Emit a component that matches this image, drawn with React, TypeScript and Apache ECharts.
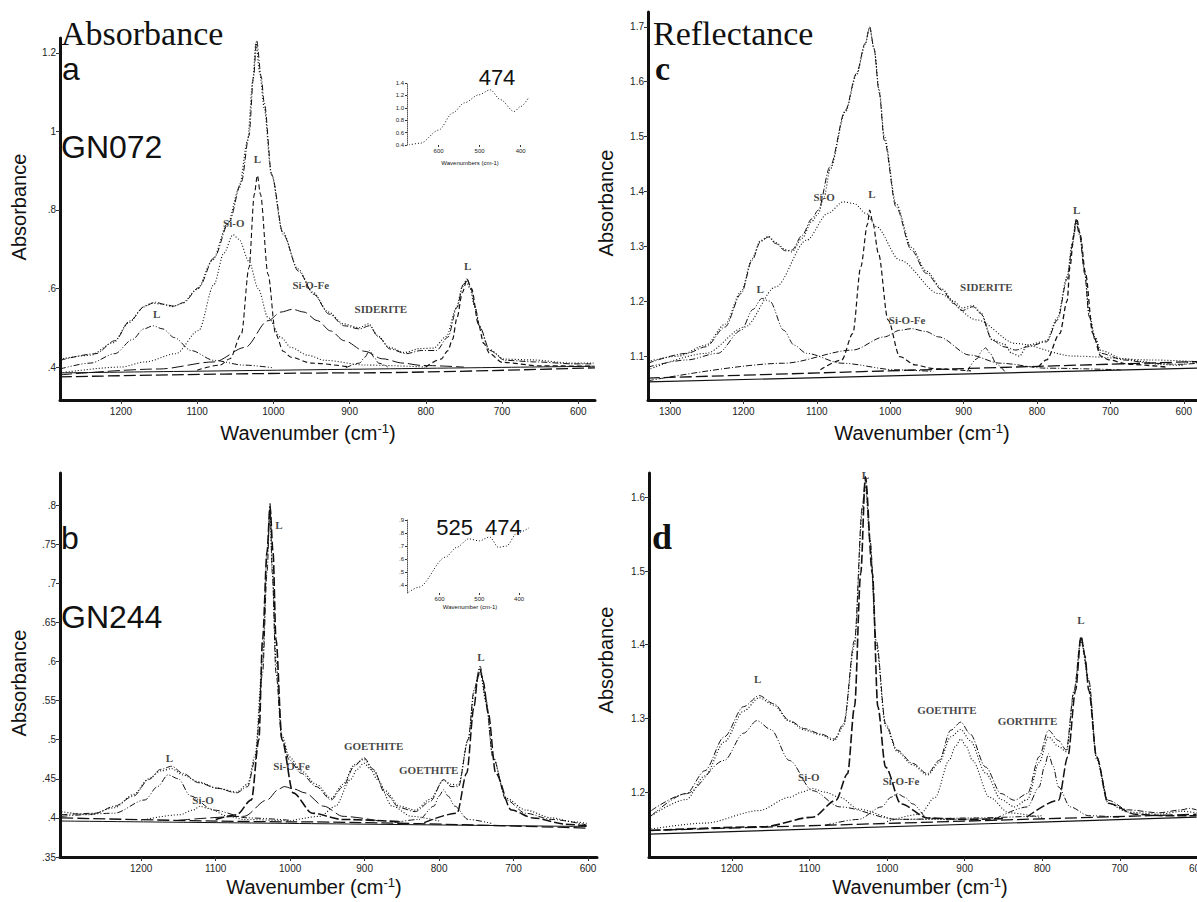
import React, { useEffect, useRef } from "react";
import * as echarts from "echarts";

// ---------- Panel a : GN072 absorbance ----------
const aTotal = [[1280,0.417],[1233,0.434],[1208,0.467],[1188,0.518],[1168,0.556],[1155,0.565],[1140,0.558],[1130,0.555],[1118,0.564],[1098,0.602],[1078,0.678],[1058,0.77],[1042,0.871],[1032,0.989],[1026,1.14],[1022,1.232],[1016,1.14],[1012,1.073],[1002,0.888],[987,0.737],[967,0.644],[947,0.585],[927,0.535],[907,0.505],[887,0.497],[874,0.505],[862,0.476],[847,0.446],[826,0.434],[806,0.442],[786,0.442],[771,0.476],[759,0.552],[751,0.61],[746,0.625],[741,0.6],[735,0.55],[729,0.501],[716,0.442],[696,0.417],[656,0.413],[606,0.408],[580,0.408]];
const aMeas = [[1280,0.42],[1240,0.43],[1210,0.462],[1190,0.513],[1170,0.553],[1160,0.563],[1145,0.56],[1133,0.554],[1120,0.562],[1100,0.598],[1080,0.672],[1060,0.765],[1045,0.855],[1034,0.975],[1027,1.13],[1023,1.225],[1018,1.15],[1012,1.06],[1003,0.895],[988,0.745],[968,0.65],[948,0.59],[928,0.54],[908,0.51],[888,0.5],[875,0.51],[863,0.48],[848,0.45],[828,0.437],[808,0.447],[790,0.448],[773,0.478],[760,0.55],[752,0.605],[747,0.618],[742,0.6],[736,0.555],[730,0.505],[717,0.445],[697,0.42],[660,0.418],[610,0.41],[580,0.41]];
const aL1160 = [[1280,0.395],[1240,0.41],[1208,0.434],[1185,0.47],[1170,0.497],[1158,0.505],[1145,0.497],[1130,0.475],[1108,0.442],[1078,0.417],[1040,0.405],[1000,0.398]];
const aSiO = [[1280,0.385],[1200,0.4],[1168,0.413],[1128,0.434],[1098,0.493],[1078,0.61],[1065,0.69],[1053,0.737],[1045,0.725],[1032,0.669],[1020,0.6],[1007,0.526],[990,0.475],[977,0.45],[955,0.43],[932,0.417],[880,0.405],[800,0.4]];
const aL1020 = [[1100,0.392],[1070,0.405],[1057,0.421],[1042,0.484],[1032,0.653],[1025,0.84],[1021,0.888],[1017,0.84],[1007,0.636],[997,0.484],[987,0.44],[977,0.425],[950,0.41],[900,0.4]];
const aSiOFe = [[1280,0.38],[1150,0.395],[1078,0.413],[1037,0.45],[1007,0.518],[990,0.54],[975,0.547],[960,0.54],[942,0.518],[925,0.492],[907,0.467],[880,0.44],[857,0.421],[830,0.41],[806,0.404],[750,0.4]];
const aSid = [[905,0.398],[887,0.41],[880,0.425],[874,0.442],[868,0.425],[862,0.41],[850,0.4]];
const aL745 = [[800,0.4],[780,0.42],[771,0.442],[765,0.47],[759,0.526],[752,0.59],[746,0.623],[740,0.6],[731,0.509],[724,0.46],[716,0.434],[700,0.412],[650,0.403],[580,0.402]];
const aBase1 = [[1280,0.385],[578,0.402]];
const aBase2 = [[1280,0.375],[900,0.385],[578,0.398]];
const aNotes = [[1153,0.535,"L"],[1052,0.766,"Si-O"],[1021,0.93,"L"],[951,0.61,"Si-O-Fe"],[859,0.547,"SIDERITE"],[745,0.657,"L"]];
const aInset = [[672,0.4],[644,0.43],[600,0.64],[565,0.92],[537,1.08],[502,1.21],[474,1.29],[449,1.13],[416,0.94],[400,1.02],[381,1.16]];

// ---------- Panel b : GN244 absorbance ----------
const bTotal = [[1307,0.404],[1261,0.406],[1236,0.415],[1210,0.428],[1190,0.449],[1174,0.462],[1159,0.466],[1144,0.457],[1123,0.445],[1098,0.438],[1072,0.432],[1057,0.44],[1047,0.474],[1037,0.585],[1031,0.713],[1027,0.802],[1024,0.713],[1019,0.585],[1011,0.5],[1001,0.474],[985,0.457],[965,0.44],[945,0.423],[929,0.44],[914,0.466],[901,0.477],[888,0.462],[873,0.432],[853,0.413],[832,0.408],[812,0.421],[794,0.449],[784,0.44],[774,0.44],[761,0.5],[753,0.564],[745,0.594],[737,0.551],[728,0.479],[710,0.423],[684,0.406],[649,0.398],[602,0.391]];
const bMeas = [[1307,0.408],[1270,0.404],[1236,0.413],[1210,0.43],[1190,0.45],[1174,0.46],[1159,0.463],[1144,0.455],[1123,0.446],[1098,0.438],[1072,0.433],[1057,0.443],[1047,0.48],[1037,0.6],[1031,0.74],[1027,0.79],[1024,0.72],[1019,0.6],[1011,0.505],[1001,0.478],[985,0.46],[965,0.443],[945,0.425],[929,0.443],[914,0.468],[901,0.475],[888,0.46],[873,0.435],[853,0.415],[832,0.41],[812,0.424],[794,0.448],[784,0.443],[774,0.442],[761,0.5],[753,0.56],[745,0.588],[737,0.548],[728,0.478],[710,0.425],[684,0.41],[649,0.4],[620,0.395],[602,0.393]];
const bL1160 = [[1307,0.402],[1236,0.406],[1195,0.423],[1178,0.44],[1164,0.455],[1150,0.45],[1134,0.428],[1103,0.41],[1057,0.4],[1000,0.397]];
const bSiO = [[1200,0.397],[1149,0.404],[1130,0.41],[1121,0.415],[1110,0.412],[1083,0.402],[1062,0.398],[1000,0.396]];
const bL1025 = [[1100,0.398],[1072,0.404],[1052,0.423],[1042,0.5],[1037,0.628],[1031,0.74],[1027,0.798],[1023,0.74],[1019,0.628],[1011,0.5],[996,0.432],[970,0.406],[930,0.398],[850,0.395]];
const bSiOFe = [[1150,0.397],[1062,0.402],[1031,0.423],[1015,0.437],[1008,0.44],[995,0.437],[980,0.432],[955,0.415],[929,0.402],[880,0.396]];
const bGoe900 = [[1000,0.396],[960,0.402],[939,0.415],[919,0.449],[910,0.462],[901,0.47],[892,0.462],[883,0.449],[863,0.415],[837,0.402],[800,0.396]];
const bGoe795 = [[860,0.394],[827,0.398],[807,0.415],[800,0.428],[794,0.436],[788,0.428],[779,0.415],[761,0.398],[730,0.393]];
const bL745 = [[820,0.394],[776,0.406],[763,0.457],[753,0.543],[748,0.58],[745,0.59],[741,0.575],[734,0.534],[724,0.457],[703,0.41],[674,0.4],[630,0.392],[602,0.39]];
const bBase1 = [[1307,0.396],[602,0.389]];
const bBase2 = [[1307,0.4],[1000,0.395],[602,0.387]];
const bNotes = [[1015,0.775,"L"],[1162,0.477,"L"],[1117,0.423,"Si-O"],[998,0.466,"Si-O-Fe"],[888,0.492,"GOETHITE"],[814,0.461,"GOETHITE"],[744,0.606,"L"]];
const bInset = [[678,0.346],[652,0.385],[585,0.615],[557,0.69],[527,0.755],[500,0.74],[474,0.77],[452,0.69],[432,0.7],[405,0.8],[375,0.84]];

// ---------- Panel c : reflectance ----------
const cTotal = [[1330,1.087],[1277,1.105],[1251,1.117],[1225,1.153],[1203,1.214],[1188,1.275],[1177,1.308],[1166,1.317],[1156,1.305],[1143,1.292],[1134,1.293],[1120,1.32],[1107,1.35],[1098,1.366],[1082,1.445],[1061,1.548],[1046,1.615],[1034,1.67],[1028,1.7],[1022,1.66],[1015,1.58],[1008,1.493],[992,1.372],[971,1.293],[951,1.251],[929,1.22],[914,1.196],[902,1.183],[887,1.19],[877,1.178],[861,1.129],[845,1.117],[829,1.111],[813,1.117],[787,1.126],[772,1.166],[759,1.24],[752,1.3],[747,1.345],[742,1.32],[735,1.25],[729,1.172],[721,1.13],[713,1.105],[682,1.093],[645,1.087],[604,1.085],[582,1.087]];
const cMeas = [[1330,1.09],[1289,1.1],[1251,1.12],[1225,1.158],[1203,1.218],[1188,1.278],[1177,1.31],[1166,1.318],[1156,1.307],[1143,1.294],[1134,1.29],[1120,1.315],[1107,1.345],[1098,1.36],[1090,1.39],[1082,1.44],[1061,1.545],[1046,1.612],[1034,1.668],[1028,1.698],[1022,1.66],[1015,1.585],[1008,1.5],[992,1.378],[971,1.298],[951,1.255],[929,1.222],[914,1.2],[902,1.188],[887,1.192],[877,1.18],[861,1.13],[845,1.122],[834,1.105],[824,1.1],[813,1.12],[787,1.128],[772,1.17],[759,1.245],[752,1.305],[747,1.348],[742,1.325],[735,1.255],[729,1.178],[721,1.135],[713,1.11],[682,1.095],[655,1.09],[635,1.085],[604,1.083],[590,1.09],[582,1.088]];
const cL1165 = [[1330,1.08],[1277,1.093],[1235,1.105],[1203,1.147],[1187,1.185],[1175,1.205],[1164,1.2],[1145,1.147],[1131,1.12],[1114,1.105],[1066,1.087],[992,1.075],[941,1.072]];
const cSiO = [[1330,1.075],[1251,1.105],[1198,1.153],[1156,1.226],[1114,1.311],[1085,1.36],[1064,1.381],[1049,1.378],[1033,1.36],[1019,1.336],[987,1.275],[934,1.214],[882,1.166],[829,1.123],[750,1.1],[645,1.093],[582,1.09]];
const cL1025 = [[1095,1.075],[1066,1.093],[1051,1.141],[1040,1.263],[1031,1.34],[1028,1.366],[1024,1.345],[1016,1.287],[1003,1.166],[987,1.099],[966,1.084],[941,1.077],[890,1.073]];
const cSiOFe = [[1330,1.055],[1145,1.087],[1051,1.111],[1008,1.135],[987,1.147],[971,1.15],[952,1.145],[934,1.135],[892,1.102],[850,1.087],[788,1.078],[686,1.075]];
const cSid = [[895,1.072],[882,1.095],[875,1.11],[870,1.115],[864,1.105],[855,1.085],[844,1.072]];
const cL745 = [[798,1.08],[787,1.093],[769,1.141],[759,1.2],[755,1.263],[750,1.32],[746,1.351],[741,1.32],[734,1.251],[724,1.141],[713,1.1],[702,1.093],[675,1.085],[624,1.08]];
const cBase1 = [[1330,1.053],[582,1.078]];
const cBase2 = [[1330,1.06],[582,1.09]];
const cNotes = [[1090,1.39,"Si-O"],[1025,1.396,"L"],[1177,1.223,"L"],[869,1.225,"SIDERITE"],[977,1.166,"Si-O-Fe"],[746,1.367,"L"]];

// ---------- Panel d : reflectance ----------
const dTotal = [[1304,1.175],[1259,1.198],[1235,1.229],[1210,1.275],[1185,1.316],[1165,1.331],[1146,1.32],[1126,1.297],[1106,1.286],[1086,1.279],[1068,1.272],[1056,1.293],[1042,1.406],[1032,1.587],[1028,1.624],[1022,1.542],[1014,1.406],[1002,1.293],[987,1.257],[967,1.239],[948,1.225],[933,1.243],[918,1.284],[905,1.295],[893,1.279],[873,1.234],[853,1.198],[836,1.189],[819,1.198],[804,1.248],[792,1.284],[779,1.27],[769,1.257],[759,1.338],[750,1.411],[740,1.352],[730,1.248],[715,1.189],[690,1.176],[650,1.172],[620,1.176],[611,1.178],[601,1.176]];
const dMeas = [[1304,1.168],[1259,1.19],[1235,1.222],[1210,1.268],[1185,1.31],[1165,1.328],[1146,1.318],[1126,1.296],[1106,1.284],[1086,1.278],[1068,1.27],[1056,1.29],[1042,1.4],[1032,1.58],[1028,1.615],[1022,1.54],[1014,1.4],[1002,1.29],[987,1.255],[967,1.237],[948,1.223],[933,1.24],[918,1.275],[905,1.285],[893,1.27],[873,1.226],[853,1.19],[836,1.18],[819,1.19],[804,1.24],[792,1.275],[779,1.262],[769,1.255],[759,1.335],[750,1.405],[740,1.35],[730,1.245],[715,1.185],[690,1.173],[650,1.17],[620,1.174],[601,1.172]];
const dL1165 = [[1304,1.168],[1259,1.198],[1210,1.243],[1185,1.28],[1168,1.297],[1150,1.285],[1126,1.243],[1096,1.202],[1061,1.18],[987,1.163],[888,1.165],[800,1.168]];
const dSiO = [[1304,1.15],[1235,1.158],[1165,1.175],[1126,1.193],[1110,1.2],[1096,1.205],[1080,1.2],[1061,1.193],[1037,1.177],[987,1.163],[913,1.163],[850,1.165]];
const dL1025 = [[1304,1.148],[1160,1.153],[1096,1.166],[1066,1.189],[1051,1.225],[1042,1.316],[1034,1.497],[1028,1.628],[1019,1.497],[1012,1.316],[1002,1.234],[982,1.184],[948,1.165],[900,1.163],[850,1.164]];
const dSiOFe = [[1080,1.155],[1037,1.163],[1007,1.18],[995,1.193],[987,1.198],[977,1.193],[967,1.184],[948,1.165],[920,1.162]];
const dGoe900 = [[1000,1.16],[958,1.17],[938,1.193],[920,1.243],[912,1.262],[905,1.272],[898,1.262],[890,1.243],[868,1.193],[843,1.172],[800,1.165]];
const dGoe790 = [[860,1.164],[819,1.18],[804,1.207],[797,1.235],[792,1.252],[786,1.235],[779,1.207],[764,1.18],[740,1.168],[700,1.166]];
const dL745 = [[820,1.166],[779,1.189],[767,1.248],[757,1.338],[750,1.411],[745,1.385],[740,1.338],[730,1.248],[715,1.185],[680,1.17],[640,1.168],[601,1.168]];
const dBase1 = [[1307,1.143],[601,1.166]];
const dBase2 = [[1307,1.148],[601,1.17]];
const dNotes = [[1028,1.63,"L"],[1167,1.354,"L"],[1101,1.22,"Si-O"],[982,1.215,"Si-O-Fe"],[923,1.311,"GOETHITE"],[819,1.297,"GORTHITE"],[750,1.433,"L"]];

// ---------- axes / ticks ----------
const xTicksA = [1200, 1100, 1000, 900, 800, 700, 600];
const xTicksC = [1300, 1200, 1100, 1000, 900, 800, 700, 600];
const yTicksA = [0.4, 0.6, 0.8, 1, 1.2];
const yLabelsA = [".4", ".6", ".8", "1", "1.2"];
const yTicksB = [0.35, 0.4, 0.45, 0.5, 0.55, 0.6, 0.65, 0.7, 0.75, 0.8];
const yLabelsB = [".35", ".4", ".45", ".5", ".55", ".6", ".65", ".7", ".75", ".8"];
const yTicksC = [1.1, 1.2, 1.3, 1.4, 1.5, 1.6, 1.7];
const yLabelsC = ["1.1", "1.2", "1.3", "1.4", "1.5", "1.6", "1.7"];
const yTicksD = [1.2, 1.3, 1.4, 1.5, 1.6];
const yLabelsD = ["1.2", "1.3", "1.4", "1.5", "1.6"];
const insetXTicks = [600, 500, 400];
const insetYTicksA = [0.4, 0.6, 0.8, 1.0, 1.2, 1.4];
const insetYLabelsA = ["0.4", "0.6", "0.8", "1.0", "1.2", "1.4"];
const insetYTicksB = [0.4, 0.5, 0.6, 0.7, 0.8, 0.9];
const insetYLabelsB = [".4", ".5", ".6", ".7", ".8", ".9"];

const K = "#111";
const SANS = "'Liberation Sans', Arial, Helvetica, sans-serif";
const SERIF = "'Liberation Serif', 'Times New Roman', serif";

function labelFor(ticks: number[], labels: string[]) {
  return (v: number) => {
    for (let i = 0; i < ticks.length; i++) if (Math.abs(ticks[i] - v) < 1e-6) return labels[i];
    return "";
  };
}

function xAx(gi: number, min: number, max: number, ticks: number[], small = false) {
  return {
    type: "value", gridIndex: gi, inverse: true, min, max,
    splitLine: { show: false },
    axisLine: { show: !small, onZero: false, lineStyle: { color: K, width: 3 } },
    axisTick: { show: true, customValues: ticks, length: small ? 2 : 4, lineStyle: { color: "#333", width: 1 } },
    axisLabel: { customValues: ticks, formatter: (v: number) => String(Math.round(v)), fontSize: small ? 6 : 10, color: "#222", fontFamily: SANS, margin: small ? 3 : 6 },
  };
}
function yAx(gi: number, min: number, max: number, ticks: number[], labels: string[], small = false) {
  return {
    type: "value", gridIndex: gi, min, max,
    splitLine: { show: false },
    axisLine: { show: true, onZero: false, lineStyle: { color: small ? "#555" : K, width: small ? 1 : 3, type: small ? "dotted" : "solid" } },
    axisTick: { show: true, customValues: ticks, length: small ? 2 : 4, lineStyle: { color: "#333", width: 1 } },
    axisLabel: { customValues: ticks, formatter: labelFor(ticks, labels), fontSize: small ? 6 : 10, color: "#222", fontFamily: SANS, margin: small ? 3 : 4 },
  };
}
function ln(data: number[][], gi: number, dash: any, width = 1) {
  return {
    type: "line", xAxisIndex: gi, yAxisIndex: gi, data, symbol: "none", showSymbol: false,
    smooth: 0.3, smoothMonotone: "x", silent: true,
    lineStyle: { color: K, width, type: dash },
  };
}
function notes(data: any[], gi: number) {
  return {
    type: "scatter", xAxisIndex: gi, yAxisIndex: gi, data, symbolSize: 1, silent: true,
    itemStyle: { color: "rgba(0,0,0,0)" },
    label: { show: true, position: "inside", formatter: (p: any) => p.data[2], color: K, fontFamily: SERIF, fontWeight: "bold", fontSize: 11 },
    z: 5,
  };
}

const DASHDOT = [6, 2, 1, 2];
const DOT = [1, 2];
const DASH = [5, 3];
const LONG = [12, 4];
const DDOT = [6, 2, 1, 2, 1, 2];

function txt(text: string, x: number, y: number, size: number, family: string, opts: any = {}) {
  return {
    type: "text", x, y, rotation: opts.rotation || 0, z: 10, silent: true,
    style: {
      text, fill: K, fontSize: size, fontFamily: family, fontWeight: opts.weight || "normal",
      align: opts.align || "left", textAlign: opts.align || "left",
      verticalAlign: "middle", textVerticalAlign: "middle",
      rich: opts.rich,
    },
  };
}
const xTitleRich = {
  sup: { fontSize: 13, fontFamily: SANS, verticalAlign: "top", padding: [0, 0, 10, 0] },
};
const XT = "Wavenumber (cm{sup|-1})";

const G = { outerBoundsMode: "none", containLabel: false };

const option = {
  animation: false,
  backgroundColor: "#ffffff",
  grid: [
    { ...G, left: 60, top: 38, width: 535, height: 362 },
    { ...G, left: 60, top: 473, width: 537, height: 384 },
    { ...G, left: 648, top: 12, width: 549, height: 388 },
    { ...G, left: 649, top: 473, width: 560, height: 384 },
    { ...G, left: 407, top: 83, width: 128, height: 62 },
    { ...G, left: 407, top: 520, width: 128, height: 73 },
  ],
  xAxis: [
    xAx(0, 578, 1280, xTicksA),
    xAx(1, 588, 1309, xTicksA),
    xAx(2, 582, 1330, xTicksC),
    xAx(3, 585, 1307, xTicksA),
    xAx(4, 365, 677, insetXTicks, true),
    xAx(5, 360, 682, insetXTicks, true),
  ],
  yAxis: [
    yAx(0, 0.316, 1.238, yTicksA, yLabelsA),
    yAx(1, 0.35, 0.841, yTicksB, yLabelsB),
    yAx(2, 1.02, 1.727, yTicksC, yLabelsC),
    yAx(3, 1.112, 1.633, yTicksD, yLabelsD),
    yAx(4, 0.4, 1.4, insetYTicksA, insetYLabelsA, true),
    yAx(5, 0.34, 0.9, insetYTicksB, insetYLabelsB, true),
  ],
  series: [
    ln(aBase1, 0, "solid", 1), ln(aBase2, 0, LONG, 1.3),
    ln(aTotal, 0, DASHDOT, 1), ln(aMeas, 0, DOT, 1.2),
    ln(aL1160, 0, DDOT, 1), ln(aSiO, 0, DOT, 1.1), ln(aL1020, 0, DASH, 1.1),
    ln(aSiOFe, 0, LONG, 1), ln(aSid, 0, DASHDOT, 1), ln(aL745, 0, DASH, 1.2),
    notes(aNotes, 0),

    ln(bBase1, 1, "solid", 1), ln(bBase2, 1, LONG, 1.3),
    ln(bTotal, 1, DASHDOT, 1), ln(bMeas, 1, DOT, 1.2),
    ln(bL1160, 1, DDOT, 1), ln(bSiO, 1, DOT, 1.1), ln(bL1025, 1, [9, 3], 1.6),
    ln(bSiOFe, 1, LONG, 1), ln(bGoe900, 1, DOT, 1.1), ln(bGoe795, 1, DDOT, 1), ln(bL745, 1, [9, 3], 1.5),
    notes(bNotes, 1),

    ln(cBase1, 2, "solid", 1.2), ln(cBase2, 2, LONG, 1.3),
    ln(cTotal, 2, DASHDOT, 1), ln(cMeas, 2, DOT, 1.2),
    ln(cL1165, 2, DDOT, 1), ln(cSiO, 2, DOT, 1.1), ln(cL1025, 2, DASH, 1.2),
    ln(cSiOFe, 2, DASHDOT, 1), ln(cSid, 2, DDOT, 1), ln(cL745, 2, DASH, 1.3),
    notes(cNotes, 2),

    ln(dBase1, 3, "solid", 1.2), ln(dBase2, 3, LONG, 1.3),
    ln(dTotal, 3, DASHDOT, 1), ln(dMeas, 3, DOT, 1.2),
    ln(dL1165, 3, DDOT, 1), ln(dSiO, 3, DOT, 1.1), ln(dL1025, 3, [9, 3], 1.6),
    ln(dSiOFe, 3, DDOT, 1), ln(dGoe900, 3, DOT, 1.1), ln(dGoe790, 3, DDOT, 1), ln(dL745, 3, [9, 3], 1.5),
    notes(dNotes, 3),

    ln(aInset, 4, DOT, 1),
    ln(bInset, 5, DOT, 1),
  ],
  graphic: [
    txt("Absorbance", 61, 33, 34, SERIF),
    txt("a", 62, 69, 32, SANS),
    txt("GN072", 61, 147, 32, SANS),
    txt("474", 497, 77, 22, SANS, { align: "center" }),
    txt("Wavenumbers (cm-1)", 470, 163, 6, SANS, { align: "center" }),
    txt("Reflectance", 653, 33, 34, SERIF),
    txt("c", 655, 68, 34, SERIF, { weight: "bold" }),
    txt("b", 61, 538, 32, SANS),
    txt("GN244", 61, 617, 32, SANS),
    txt("525  474", 479, 527, 22, SANS, { align: "center" }),
    txt("Wavenumber (cm-1)", 470, 607, 6, SANS, { align: "center" }),
    txt("d", 652, 537, 36, SERIF, { weight: "bold" }),
    txt("Absorbance", 19, 207, 20, SANS, { align: "center", rotation: Math.PI / 2 }),
    txt("Absorbance", 606, 203, 20, SANS, { align: "center", rotation: Math.PI / 2 }),
    txt("Absorbance", 19, 683, 20, SANS, { align: "center", rotation: Math.PI / 2 }),
    txt("Absorbance", 606, 660, 20, SANS, { align: "center", rotation: Math.PI / 2 }),
    txt(XT, 308, 433, 20, SANS, { align: "center", rich: xTitleRich }),
    txt(XT, 922, 433, 20, SANS, { align: "center", rich: xTitleRich }),
    txt(XT, 314, 887, 20, SANS, { align: "center", rich: xTitleRich }),
    txt(XT, 920, 887, 20, SANS, { align: "center", rich: xTitleRich }),
  ],
};

export default function App() {
  const ref = useRef<HTMLDivElement>(null);
  useEffect(() => {
    if (!ref.current) return;
    const chart = echarts.init(ref.current, null, { renderer: "svg" });
    chart.setOption(option as any);
    return () => chart.dispose();
  }, []);
  return (
    <div
      ref={ref}
      style={{ position: "absolute", left: 0, top: 0, width: 1197, height: 902, background: "#fff" }}
    />
  );
}
